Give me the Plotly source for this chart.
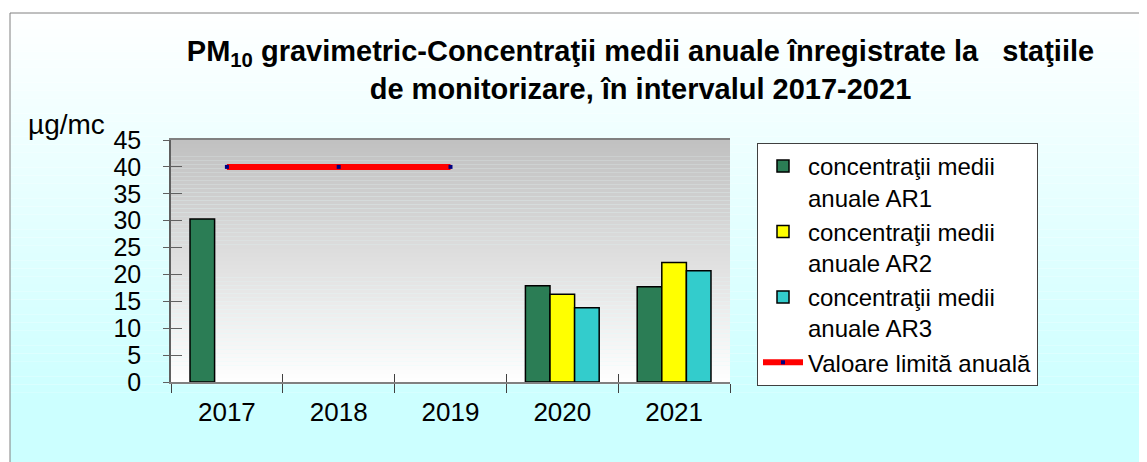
import plotly.graph_objects as go

years = ["2017", "2018", "2019", "2020", "2021"]
ar1 = [30.3, None, None, 17.9, 17.7]
ar2 = [None, None, None, 16.3, 22.2]
ar3 = [None, None, None, 13.8, 20.7]
limit = [40, 40, 40, None, None]

names = ["concentraţii medii<br>anuale AR1", "concentraţii medii<br>anuale AR2",
         "concentraţii medii<br>anuale AR3", "Valoare limită anuală"]
title_text = ("<b>PM<sub>10</sub> gravimetric-Concentraţii medii anuale înregistrate la   staţiile<br>"
              "de monitorizare, în intervalul 2017-2021</b>")
y_unit = "µg/mc"

FONT = "Liberation Sans, Arial, sans-serif"

fig = go.Figure()
fig.add_trace(go.Bar(x=years, y=ar1, name=names[0], marker=dict(color="#2b7d55", line=dict(color="black", width=1.5))))
fig.add_trace(go.Bar(x=years, y=ar2, name=names[1], marker=dict(color="#ffff00", line=dict(color="black", width=1.5))))
fig.add_trace(go.Bar(x=years, y=ar3, name=names[2], marker=dict(color="#33cccc", line=dict(color="black", width=1.5))))
fig.add_trace(go.Scatter(x=years, y=limit, name=names[3], mode="lines+markers",
                         line=dict(color="#ff0000", width=6),
                         marker=dict(color="#000080", symbol="square", size=4, line=dict(width=0))))

# pixel geometry (page has an 8px body margin, so figure px = screen px - 8)
OFF = 8
W, H = 1147 - OFF, 462 - OFF
L, R, T, B = 171 - OFF, 730 - OFF, 140 - OFF, 382 - OFF
def px_x(p):  # p in screen px
    return (p - OFF - L) / (R - L)
def px_y(p):
    return (B - (p - OFF)) / (B - T)

shapes = []
# paper gradient (white -> light cyan) inside frame
n = 50
top_px, bot_px = 13, 400
for i in range(n):
    y0p = top_px + (bot_px - top_px) * i / n
    y1p = top_px + (bot_px - top_px) * (i + 1) / n
    f = (i + 0.5) / n
    r = int(round(255 + (204 - 255) * f))
    shapes.append(dict(type="rect", xref="paper", yref="paper", x0=px_x(10), x1=px_x(1200),
                       y0=px_y(y1p), y1=px_y(y0p), fillcolor=f"rgb({r},255,255)",
                       line=dict(width=0), layer="below"))
shapes.append(dict(type="rect", xref="paper", yref="paper", x0=px_x(10), x1=px_x(1200),
                   y0=px_y(500), y1=px_y(bot_px), fillcolor="rgb(204,255,255)",
                   line=dict(width=0), layer="below"))
# plot-area gradient (grey top -> white bottom)
m = 60
for i in range(m):
    f = (i + 0.5) / m
    v = int(round(192 + (255 - 192) * f))
    shapes.append(dict(type="rect", xref="paper", yref="paper", x0=0, x1=1,
                       y0=1 - (i + 1) / m, y1=1 - i / m, fillcolor=f"rgb({v},{v},{v})",
                       line=dict(width=0), layer="below"))
# frame border
shapes.append(dict(type="rect", xref="paper", yref="paper", x0=px_x(10), x1=px_x(1200),
                   y0=px_y(520), y1=px_y(13), fillcolor="rgba(0,0,0,0)",
                   line=dict(color="#808080", width=1), layer="below"))

fig.update_layout(
    width=W, height=H,
    margin=dict(l=L, r=W - R, t=T, b=H - B, pad=0, autoexpand=False),
    paper_bgcolor="white",
    plot_bgcolor="rgba(0,0,0,0)",
    font=dict(family=FONT, color="black"),
    barmode="group", bargap=0.34, bargroupgap=0,
    title=dict(text=title_text, x=(640.5 - OFF) / W, xanchor="center", y=1 - 53 / H, yanchor="top",
               font=dict(size=29, family=FONT, color="black")),
    shapes=shapes,
    showlegend=True,
    legend=dict(x=px_x(757), xanchor="left", y=px_y(143), yanchor="top",
                bgcolor="white", bordercolor="#404040", borderwidth=1,
                font=dict(size=24, family=FONT, color="black"),
                tracegroupgap=0, itemwidth=40, valign="top", maxheight=400),
    annotations=[dict(text=y_unit, xref="paper", yref="paper", x=px_x(26), xanchor="left",
                      y=px_y(124), yanchor="middle", showarrow=False,
                      font=dict(size=28, family=FONT, color="black"))],
)

fig.update_xaxes(type="category", showgrid=False, showline=True, linecolor="#808080", linewidth=1.5,
                 mirror=True, ticks="outside", tickson="boundaries", ticklen=9, tickcolor="#404040",
                 tickfont=dict(size=26, family=FONT, color="black"), ticklabelstandoff=6)
fig.update_yaxes(range=[0, 45], dtick=5, tick0=0, showgrid=False, zeroline=False, showline=True,
                 linecolor="#606060", linewidth=1.5, ticks="outside", ticklen=6, tickcolor="#606060",
                 tickfont=dict(size=25, family=FONT, color="black"), ticklabelstandoff=17)
# overlay axes to draw the inner half of the crossing ticks
fig.update_layout(
    yaxis2=dict(overlaying="y", anchor="x2", side="left", range=[0, 45], dtick=5, tick0=0,
                ticks="inside", ticklen=11, tickcolor="#606060", showticklabels=False,
                showgrid=False, zeroline=False, showline=False),
    xaxis2=dict(overlaying="x", anchor="y2", side="bottom", type="category", categoryorder="array",
                categoryarray=years, range=[-0.5, 4.5], tickson="boundaries",
                ticks="inside", ticklen=8, tickcolor="#404040", showticklabels=False,
                showgrid=False, zeroline=False, showline=False),
)
fig.add_trace(go.Scatter(x=years, y=[None] * len(years), xaxis="x2", yaxis="y2",
                         showlegend=False, hoverinfo="skip"))

fig.write_html("out.html")
